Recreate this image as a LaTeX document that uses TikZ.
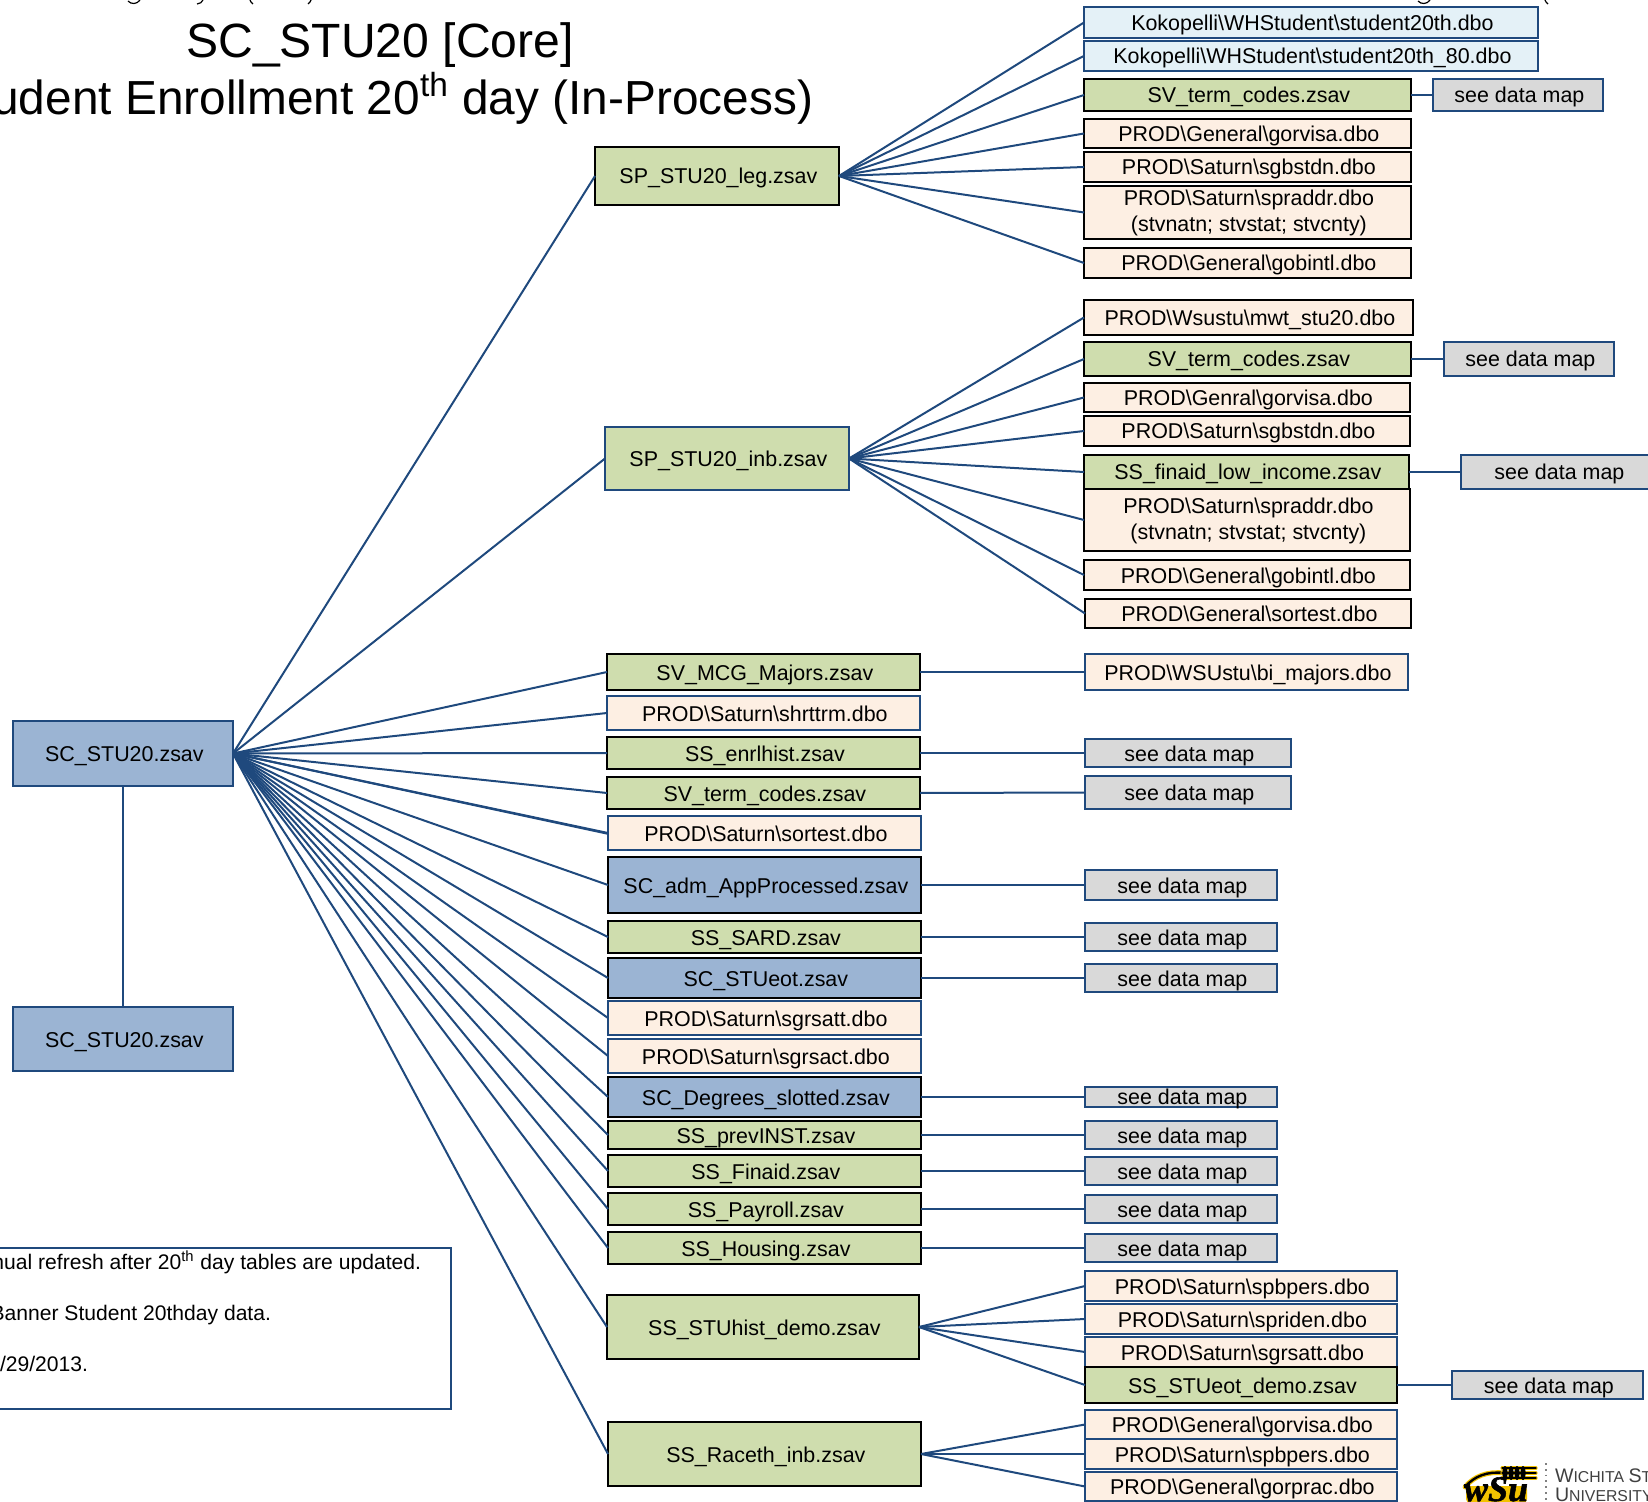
\documentclass[tikz,border=0pt]{standalone}
\usepackage{fontspec}
\setmainfont{Liberation Sans}
\newfontfamily\wsufont[FakeBold=1.5]{Liberation Serif}
\newcommand{\bsl}{\textbackslash{}}
\definecolor{lnk}{HTML}{1F497D}
\definecolor{fgreen}{HTML}{CFDDAE}
\definecolor{fpeach}{HTML}{FDEFE3}
\definecolor{fblue}{HTML}{9BB4D3}
\definecolor{fgray}{HTML}{D9D9D9}
\definecolor{fsky}{HTML}{E4F1F7}
\definecolor{wsuy}{HTML}{F2C200}
\tikzset{
  base/.style={rectangle,inner sep=0pt,outer sep=0pt,align=center,text=black,
    font=\fontsize{10.72}{13}\selectfont},
  blk/.style={base,draw=black,line width=1.2pt},
  blu/.style={base,draw=lnk,line width=1pt},
  green/.style={blk,fill=fgreen},
  greenb/.style={blu,fill=fgreen},
  peach/.style={blk,fill=fpeach},
  peachb/.style={blu,fill=fpeach},
  core/.style={blk,fill=fblue},
  coreb/.style={blu,fill=fblue},
  map/.style={blu,fill=fgray},
  sky/.style={blu,fill=fsky},
  lnkline/.style={draw=lnk,line width=1pt},
  plain/.style={inner sep=0pt,outer sep=0pt,text=black},
  frag/.style={draw=black,line width=0.6pt},
}
% \bx{style}{name}{x0}{y0}{x1}{y1}{text}
\newcommand{\bx}[7]{%
  \pgfmathsetmacro{\bxw}{(#5-(#3))*0.5}%
  \pgfmathsetmacro{\bxh}{(#6-#4)*0.5}%
  \node[#1,minimum width=\bxw pt,minimum height=\bxh pt] (#2) at ({(#3+#5)/2},{(#4+#6)/2}) {\rule{0pt}{11pt}\hspace*{1.4pt}#7\rule[-3pt]{0pt}{3pt}};}
% a box too low for the struts of \bx
\newcommand{\bxlow}[7]{%
  \pgfmathsetmacro{\bxw}{(#5-(#3))*0.5}%
  \pgfmathsetmacro{\bxh}{(#6-#4)*0.5}%
  \node[#1,minimum width=\bxw pt,minimum height=\bxh pt] (#2) at ({(#3+#5)/2},{(#4+#6)/2}) {\hspace*{1.4pt}\raisebox{-3.8pt}[0pt][0pt]{#7}};}
% a box with two lines of text
\newcommand{\bxtwo}[8]{%
  \pgfmathsetmacro{\bxw}{(#5-(#3))*0.5}%
  \pgfmathsetmacro{\bxh}{(#6-#4)*0.5}%
  \node[#1,minimum width=\bxw pt,minimum height=\bxh pt] (#2) at ({(#3+#5)/2},{(#4+#6)/2}) {\rule{0pt}{8.8pt}\hspace*{1.4pt}#7\\\hspace*{1.4pt}#8\rule[-2.3pt]{0pt}{2.3pt}};}
\newcommand{\lk}[2]{\draw[lnkline] (#1.east) -- (#2.west);}
\begin{document}
\begin{tikzpicture}[x=0.5pt,y=-0.5pt]
\useasboundingbox (0,0) rectangle (1648,1502);
\begin{scope}
\clip (0,0) rectangle (1648,1502);
% fragments of the cut-off line along the top edge
\draw[frag] (128,1) .. controls (131,4.5) and (137,4.5) .. (140,0);
\draw[frag] (203,0) .. controls (202,2) and (200,4) .. (197,4);
\draw[frag] (250,0) .. controls (250.5,1.5) and (251.5,3) .. (253,4);
\draw[frag] (311,0) .. controls (310.5,1.5) and (309.5,3) .. (308,4);
\draw[frag] (1418,1) .. controls (1421,4.5) and (1427,4.5) .. (1430,0);
\draw[frag] (1545,0) .. controls (1545.5,1.5) and (1546.5,3) .. (1548,4);
% titles
\node[plain,anchor=base,font=\fontsize{24.05}{28}\selectfont] (title1) at (380,58) {SC\_STU20 [Core]};
\node[plain,anchor=base east,font=\fontsize{23.9}{28}\selectfont] (title2) at (813,115) {udent Enrollment 20\textsuperscript{th} day (In-Process)};
% root
\bx{coreb}{root}{13}{721}{233}{786}{SC\_STU20.zsav}
\bx{coreb}{rootb}{13}{1007}{233}{1071}{SC\_STU20.zsav}
% top groups
\bx{green}{leg}{595}{147}{839}{205}{SP\_STU20\_leg.zsav}
\bx{greenb}{inb}{605}{427}{849}{490}{SP\_STU20\_inb.zsav}
\bx{sky}{k1}{1084}{7}{1538}{38}{Kokopelli\bsl WHStudent\bsl student20th.dbo}
\bx{sky}{k2}{1084}{41}{1538}{71}{Kokopelli\bsl WHStudent\bsl student20th\_80.dbo}
\bx{green}{lt}{1084}{79}{1411}{111}{SV\_term\_codes.zsav}
\bx{map}{ltm}{1433}{79}{1603}{111}{see data map}
\bx{peach}{lgv}{1084}{119}{1411}{148}{PROD\bsl General\bsl gorvisa.dbo}
\bx{peach}{lsg}{1084}{152}{1411}{182}{PROD\bsl Saturn\bsl sgbstdn.dbo}
\bxtwo{peach}{lsp}{1084}{186}{1411}{239}{PROD\bsl Saturn\bsl spraddr.dbo}{(stvnatn; stvstat; stvcnty)}
\bx{peach}{lgb}{1084}{248}{1411}{278}{PROD\bsl General\bsl gobintl.dbo}
\bx{peach}{imw}{1084}{300}{1413}{335}{PROD\bsl Wsustu\bsl mwt\_stu20.dbo}
\bx{green}{it}{1084}{342}{1411}{376}{SV\_term\_codes.zsav}
\bx{map}{itm}{1444}{342}{1614}{376}{see data map}
\bx{peach}{igv}{1084}{383}{1410}{412}{PROD\bsl Genral\bsl gorvisa.dbo}
\bx{peach}{isg}{1084}{416}{1410}{446}{PROD\bsl Saturn\bsl sgbstdn.dbo}
\bx{green}{ifn}{1084}{455}{1409}{489}{SS\_finaid\_low\_income.zsav}
\bx{map}{ifm}{1461}{455}{1655}{489}{see data map}
\bxtwo{peach}{isp}{1084}{489}{1410}{551}{PROD\bsl Saturn\bsl spraddr.dbo}{(stvnatn; stvstat; stvcnty)}
\bx{peach}{igb}{1084}{560}{1410}{590}{PROD\bsl General\bsl gobintl.dbo}
\bx{peach}{iso}{1085}{599}{1411}{628}{PROD\bsl General\bsl sortest.dbo}
% middle column
\bx{green}{mcg}{607}{654}{920}{690}{SV\_MCG\_Majors.zsav}
\bx{peachb}{bim}{1085}{654}{1408}{690}{PROD\bsl WSUstu\bsl bi\_majors.dbo}
\bx{peachb}{shr}{607}{696}{920}{730}{PROD\bsl Saturn\bsl shrttrm.dbo}
\bx{green}{enr}{607}{737}{920}{769}{SS\_enrlhist.zsav}
\bx{map}{enrm}{1085}{739}{1291}{767}{see data map}
\bx{green}{svt}{607}{777}{920}{809}{SV\_term\_codes.zsav}
\bx{map}{svtm}{1085}{776}{1291}{809}{see data map}
\bx{peachb}{sor}{608}{816}{921}{850}{PROD\bsl Saturn\bsl sortest.dbo}
\bx{core}{adm}{608}{857}{921}{913}{SC\_adm\_AppProcessed.zsav}
\bx{map}{admm}{1085}{870}{1277}{900}{see data map}
\bx{green}{sar}{608}{921}{921}{953}{SS\_SARD.zsav}
\bx{map}{sarm}{1085}{923}{1277}{951}{see data map}
\bx{core}{eot}{608}{958}{921}{998}{SC\_STUeot.zsav}
\bx{map}{eotm}{1085}{964}{1277}{992}{see data map}
\bx{peachb}{att}{608}{1001}{921}{1035}{PROD\bsl Saturn\bsl sgrsatt.dbo}
\bx{peachb}{act}{608}{1039}{921}{1073}{PROD\bsl Saturn\bsl sgrsact.dbo}
\bx{core}{deg}{608}{1077}{921}{1117}{SC\_Degrees\_slotted.zsav}
\bxlow{map}{degm}{1085}{1087}{1277}{1107}{see data map}
\bx{green}{pre}{608}{1121}{921}{1149}{SS\_prevINST.zsav}
\bx{map}{prem}{1085}{1121}{1277}{1149}{see data map}
\bx{green}{fin}{608}{1155}{921}{1187}{SS\_Finaid.zsav}
\bx{map}{finm}{1085}{1157}{1277}{1185}{see data map}
\bx{green}{pay}{608}{1193}{921}{1225}{SS\_Payroll.zsav}
\bx{map}{paym}{1085}{1195}{1277}{1223}{see data map}
\bx{green}{hou}{608}{1232}{921}{1264}{SS\_Housing.zsav}
\bx{map}{houm}{1085}{1234}{1277}{1262}{see data map}
% bottom groups
\bx{green}{his}{607}{1295}{919}{1359}{SS\_STUhist\_demo.zsav}
\bx{peachb}{hsp}{1085}{1271}{1397}{1301}{PROD\bsl Saturn\bsl spbpers.dbo}
\bx{peachb}{hsr}{1085}{1304}{1397}{1334}{PROD\bsl Saturn\bsl spriden.dbo}
\bx{peachb}{hsg}{1085}{1337}{1397}{1367}{PROD\bsl Saturn\bsl sgrsatt.dbo}
\bx{green}{hse}{1085}{1367}{1397}{1403}{SS\_STUeot\_demo.zsav}
\bx{map}{hsem}{1452}{1371}{1643}{1399}{see data map}
\bx{green}{rac}{608}{1422}{921}{1486}{SS\_Raceth\_inb.zsav}
\bx{peachb}{rgv}{1085}{1410}{1397}{1439}{PROD\bsl General\bsl gorvisa.dbo}
\bx{peachb}{rsp}{1085}{1439}{1397}{1469}{PROD\bsl Saturn\bsl spbpers.dbo}
\bx{peachb}{rgp}{1085}{1472}{1397}{1501}{PROD\bsl General\bsl gorprac.dbo}
% connectors
\draw[lnkline] (root.south) -- (rootb.north);
\foreach \t in {leg,inb,mcg,shr,enr,svt,sor,adm,sar,eot,att,act,deg,pre,fin,pay,hou,his,rac} {\lk{root}{\t}}
\draw[lnkline] (root.east) -- ([yshift=-0.4pt]sor.west);
\foreach \t in {k1,k2,lt,lgv,lsg,lsp,lgb} {\lk{leg}{\t}}
\foreach \t in {imw,it,igv,isg,ifn,isp,igb,iso} {\lk{inb}{\t}}
\foreach \t in {hsp,hsr,hsg,hse} {\lk{his}{\t}}
\foreach \t in {rgv,rsp,rgp} {\lk{rac}{\t}}
\lk{lt}{ltm}\lk{it}{itm}\lk{ifn}{ifm}\lk{mcg}{bim}\lk{enr}{enrm}\lk{svt}{svtm}
\lk{adm}{admm}\lk{sar}{sarm}\lk{eot}{eotm}\lk{deg}{degm}\lk{pre}{prem}\lk{fin}{finm}
\lk{pay}{paym}\lk{hou}{houm}\lk{hse}{hsem}
% notes box
\draw[lnk,line width=1pt] (-10,1248) -- (451,1248) -- (451,1409) -- (-10,1409);
\node[plain,anchor=base east,font=\fontsize{10.55}{13}\selectfont] (note1) at (421,1269) {nual refresh after 20\textsuperscript{th} day tables are updated.};
\node[plain,anchor=base east,font=\fontsize{10.55}{13}\selectfont] (note2) at (271,1320) {Banner Student 20thday data.};
\node[plain,anchor=base east,font=\fontsize{10.55}{13}\selectfont] (note3) at (88,1371) {/29/2013.};
% logo
\draw[wsuy,line width=2.4pt,line cap=round] (1465,1487) .. controls (1474,1476) and (1488,1471) .. (1504,1473);
\draw[black,line width=1.2pt,line cap=round] (1465,1487) .. controls (1474,1476) and (1488,1471) .. (1504,1473);
\foreach \yy in {1468,1473,1478} {
  \draw[wsuy,line width=1.6pt,line cap=round] (1502,\yy) -- (1536,\yy);
  \draw[black,line width=0.7pt,line cap=round] (1502,\yy) -- (1536,\yy);
}
\foreach \xx in {1505,1511,1517,1523} {\fill[black] (\xx,1473) ellipse (2.6 and 7);}
\fill[wsuy,rounded corners=2pt] (1466,1486) rectangle (1527,1503);
\node[plain,anchor=base,text=black,font=\wsufont\fontsize{18}{18}\bfseries\itshape\selectfont] (wsu) at (1496,1501) {wSu};
\draw[gray,line width=0.9pt,dotted] (1546,1463) -- (1546,1502);
\node[plain,anchor=base west,text=black!75,font=\fontsize{9.8}{10}\selectfont] (wich) at (1555,1482) {W\fontsize{7.9}{10}\selectfont ICHITA \fontsize{9.8}{10}\selectfont S\fontsize{7.9}{10}\selectfont T};
\node[plain,anchor=base west,text=black!75,font=\fontsize{9.8}{10}\selectfont] (univ) at (1555,1501) {U\fontsize{7.9}{10}\selectfont NIVERSITY};
\end{scope}
\end{tikzpicture}
\end{document}
